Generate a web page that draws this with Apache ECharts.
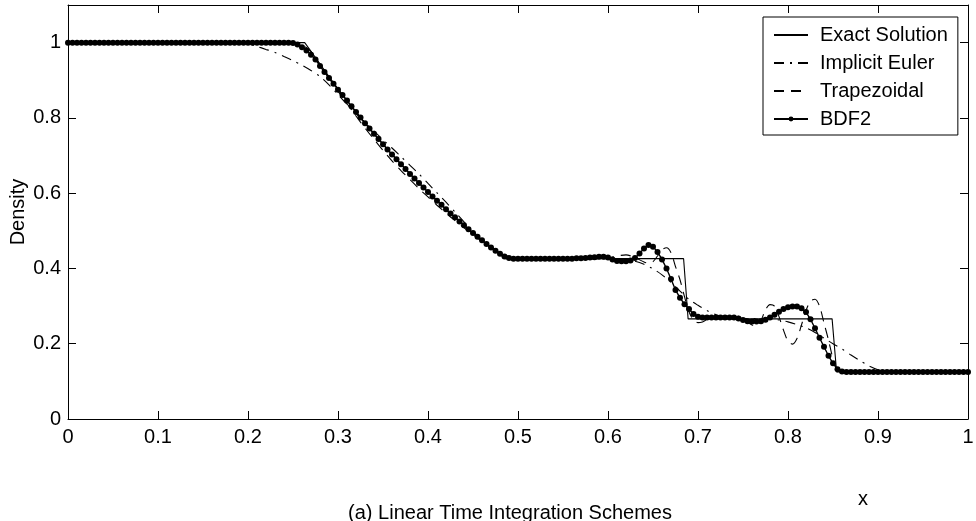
<!DOCTYPE html>
<html><head><meta charset="utf-8">
<script src="https://cdn.jsdelivr.net/npm/echarts@6/dist/echarts.min.js"></script>
<style>html,body{margin:0;padding:0;background:#fff}#c{width:976px;height:521px}</style>
</head><body><div id="c"></div>
<script>
// ---- data ----
const seriesNames = ['Exact Solution', 'Implicit Euler', 'Trapezoidal', 'BDF2'];
const xTickLabels = ['0','0.1','0.2','0.3','0.4','0.5','0.6','0.7','0.8','0.9','1'];
const yTickLabels = ['0','0.2','0.4','0.6','0.8','1'];

const exactX = [0, 0.263, 0.27, 0.28, 0.29, 0.30, 0.31, 0.32, 0.33, 0.34, 0.35, 0.36, 0.37, 0.38, 0.39, 0.40, 0.41, 0.42, 0.43, 0.44, 0.45, 0.46, 0.47, 0.48, 0.486, 0.684, 0.689, 0.849, 0.854, 1.0];
const exactY = [1, 1, 0.977, 0.943, 0.910, 0.8775, 0.846, 0.816, 0.786, 0.758, 0.730, 0.703, 0.677, 0.651, 0.627, 0.603, 0.580, 0.557, 0.536, 0.515, 0.494, 0.475, 0.455, 0.437, 0.426, 0.426, 0.266, 0.266, 0.125, 0.125];

const eulerX = [0, 0.19, 0.20, 0.21, 0.22, 0.23, 0.24, 0.25, 0.26, 0.27, 0.28, 0.29, 0.30, 0.31, 0.32, 0.33, 0.34, 0.35, 0.36, 0.37, 0.38, 0.39, 0.40, 0.41, 0.42, 0.43, 0.44, 0.45, 0.46, 0.47, 0.48, 0.49, 0.50, 0.51, 0.52,
  0.60, 0.61, 0.62, 0.63, 0.64, 0.65, 0.66, 0.67, 0.68, 0.69, 0.70, 0.71, 0.72, 0.73, 0.74, 0.75,
  0.78, 0.79, 0.80, 0.81, 0.82, 0.83, 0.84, 0.85, 0.86, 0.87, 0.88, 0.89, 0.90, 0.91, 0.92, 1.0];
const eulerY = [1, 1.0, 0.997, 0.99, 0.982, 0.974, 0.963, 0.952, 0.94, 0.926, 0.91, 0.888, 0.862, 0.836, 0.811, 0.787, 0.765, 0.742, 0.72, 0.697, 0.674, 0.651, 0.626, 0.601, 0.576, 0.55, 0.524, 0.499, 0.476, 0.456, 0.441, 0.432, 0.428, 0.427, 0.426,
  0.426, 0.425, 0.423, 0.419, 0.411, 0.399, 0.383, 0.363, 0.34, 0.318, 0.302, 0.288, 0.277, 0.271, 0.268, 0.267,
  0.266, 0.263, 0.258, 0.251, 0.242, 0.23, 0.215, 0.2, 0.186, 0.17, 0.155, 0.141, 0.131, 0.126, 0.125, 0.125];

const trapX = [0, 0.24, 0.25, 0.26, 0.27, 0.28, 0.29, 0.30, 0.31, 0.32, 0.33, 0.34, 0.35, 0.36, 0.37, 0.38, 0.39, 0.40, 0.41, 0.42, 0.43, 0.44, 0.45, 0.46, 0.47, 0.48, 0.49, 0.50,
  0.59, 0.60, 0.61, 0.62, 0.63, 0.64,
  0.645, 0.65, 0.655, 0.66, 0.665, 0.67, 0.675, 0.68, 0.685, 0.69, 0.695, 0.70, 0.705,
  0.71, 0.72, 0.73, 0.74,
  0.745, 0.75, 0.755, 0.76, 0.765, 0.77, 0.775, 0.78, 0.785, 0.79, 0.795, 0.80, 0.805, 0.81, 0.815, 0.82, 0.825, 0.83, 0.835, 0.84, 0.845, 0.85, 0.855, 0.86,
  1.0];
const trapY = [1, 1, 0.999, 0.994, 0.976, 0.942, 0.906, 0.871, 0.838, 0.805, 0.773, 0.743, 0.714, 0.686, 0.660, 0.636, 0.612, 0.590, 0.568, 0.547, 0.527, 0.508, 0.490, 0.472, 0.456, 0.441, 0.431, 0.426,
  0.426, 0.428, 0.433, 0.436, 0.429, 0.417,
  0.414, 0.418, 0.433, 0.450, 0.455, 0.442, 0.405, 0.370, 0.325, 0.285, 0.263, 0.256, 0.258,
  0.264, 0.270, 0.268, 0.268,
  0.273, 0.270, 0.258, 0.250, 0.248, 0.262, 0.290, 0.304, 0.300, 0.272, 0.236, 0.207, 0.199, 0.214, 0.250, 0.288, 0.313, 0.318, 0.300, 0.255, 0.210, 0.160, 0.130, 0.125,
  0.125];

// BDF2 values on the 201-point grid x = 0, 0.005, ..., 1
const bdf2Step = 0.005;
const bdf2Y = [
  1,1,1,1,1,1,1,1,1,1, 1,1,1,1,1,1,1,1,1,1, 1,1,1,1,1,1,1,1,1,1, 1,1,1,1,1,1,1,1,1,1, 1,1,1,1,1,1,1,1,1,   // 0 .. 0.24
  1.0, 0.999, 0.995, 0.988, 0.979, 0.968, 0.955, 0.938, 0.922, 0.906, 0.891,           // 0.245 .. 0.295
  0.875, 0.861, 0.846, 0.831, 0.816, 0.801, 0.786, 0.772, 0.758, 0.744,                 // 0.30 .. 0.345
  0.730, 0.716, 0.703, 0.690, 0.677, 0.664, 0.651, 0.639, 0.627, 0.615,                 // 0.35 .. 0.395
  0.603, 0.591, 0.580, 0.569, 0.557, 0.546, 0.536, 0.525, 0.515, 0.504,                 // 0.40 .. 0.445
  0.494, 0.484, 0.475, 0.465, 0.456, 0.447, 0.439, 0.432, 0.428, 0.426,                 // 0.45 .. 0.495
  0.426, 0.426, 0.426, 0.426, 0.426, 0.426, 0.426, 0.426, 0.426, 0.426, 0.426, 0.426, 0.426, // 0.50 .. 0.56
  0.427, 0.427, 0.428, 0.429, 0.430, 0.431, 0.431,                                      // 0.565 .. 0.595
  0.429, 0.424, 0.420, 0.419, 0.419, 0.421, 0.428, 0.440, 0.453, 0.462,                 // 0.60 .. 0.645
  0.458, 0.444, 0.424, 0.400, 0.372, 0.343, 0.322, 0.305, 0.292, 0.279,                 // 0.65 .. 0.695
  0.272, 0.270,                                                                         // 0.70 .. 0.705
  0.270, 0.270, 0.270, 0.270, 0.270, 0.270, 0.270,                                      // 0.71 .. 0.74
  0.267, 0.263, 0.260, 0.259, 0.259, 0.260, 0.264, 0.270, 0.277, 0.285, 0.292,          // 0.745 .. 0.795
  0.297, 0.299, 0.299, 0.294, 0.284, 0.265, 0.241, 0.216, 0.192, 0.168,                 // 0.80 .. 0.845
  0.148, 0.132, 0.126,                                                                  // 0.85 .. 0.86
  0.125, 0.125, 0.125, 0.125, 0.125, 0.125, 0.125, 0.125, 0.125, 0.125,                 // 0.865 ..
  0.125, 0.125, 0.125, 0.125, 0.125, 0.125, 0.125, 0.125, 0.125, 0.125,
  0.125, 0.125, 0.125, 0.125, 0.125, 0.125, 0.125, 0.125                                // .. 1.0
];

// ---- build chart ----
const FONT = "'Liberation Sans', Arial, sans-serif";
const zip = (xs, ys) => xs.map((x, i) => [x, ys[i]]);
const bdf2Data = bdf2Y.map((y, i) => [+(i * bdf2Step).toFixed(3), y]);
const fmtTick = (labels, step) => (v) => {
  const i = Math.round(v / step);
  return (Math.abs(v - i * step) < 1e-6 && labels[i] !== undefined) ? labels[i] : '';
};

const chart = echarts.init(document.getElementById('c'), null, {renderer: 'canvas'});
const axisCommon = {
  axisLine: {show: true, onZero: false, lineStyle: {color: '#000', width: 1}},
  axisTick: {show: true, inside: true, length: 8, lineStyle: {color: '#000', width: 1}},
  splitLine: {show: false}
};
chart.setOption({
  animation: false,
  backgroundColor: '#fff',
  textStyle: {fontFamily: FONT},
  grid: {left: 68, right: 8, top: 5, bottom: 102, containLabel: false, outerBoundsMode: 'none'},
  title: [
    {text: '(a) Linear Time Integration Schemes', left: 505, top: 498, textAlign: 'center',
     textStyle: {fontFamily: FONT, fontSize: 20, fontWeight: 'normal', color: '#000'}},
    {text: 'x', left: 858, top: 484, textAlign: 'center',
     textStyle: {fontFamily: FONT, fontSize: 20, fontWeight: 'normal', color: '#000'}}
  ],
  legend: {
    data: [
      {name: seriesNames[0], itemStyle: {opacity: 0}},
      {name: seriesNames[1], itemStyle: {opacity: 0}},
      {name: seriesNames[2], itemStyle: {opacity: 0}},
      {name: seriesNames[3]}
    ],
    orient: 'vertical',
    left: 763, top: 17,
    padding: [6, 10, 4, 10],
    itemGap: 4,
    itemWidth: 34, itemHeight: 6,
    borderColor: '#000', borderWidth: 1, backgroundColor: '#fff',
    textStyle: {fontFamily: FONT, fontSize: 20, color: '#000', lineHeight: 24, padding: [0, 0, 0, 7]}
  },
  xAxis: [
    Object.assign({type: 'value', position: 'bottom', min: 0, max: 1, interval: 0.1,
      axisLabel: {show: true, color: '#000', fontFamily: FONT, fontSize: 20, margin: 8,
        formatter: fmtTick(xTickLabels, 0.1)}}, axisCommon),
    Object.assign({type: 'value', position: 'top', min: 0, max: 1, interval: 0.1,
      axisLabel: {show: false}}, axisCommon)
  ],
  yAxis: [
    Object.assign({type: 'value', position: 'left', min: 0, max: 1.1, interval: 0.2,
      name: 'Density', nameLocation: 'middle', nameGap: 40, nameRotate: 90, nameMoveOverlap: false,
      nameTextStyle: {fontFamily: FONT, fontSize: 20, color: '#000'},
      axisLabel: {show: true, color: '#000', fontFamily: FONT, fontSize: 20, margin: 7,
        formatter: fmtTick(yTickLabels, 0.2)}}, axisCommon),
    Object.assign({type: 'value', position: 'right', min: 0, max: 1.1, interval: 0.2,
      axisLabel: {show: false}}, axisCommon)
  ],
  series: [
    {name: seriesNames[0], type: 'line', data: zip(exactX, exactY), symbol: 'none',
     lineStyle: {color: '#000', width: 1.1, type: 'solid'}, itemStyle: {color: '#000'}, z: 3},
    {name: seriesNames[1], type: 'line', data: zip(eulerX, eulerY), symbol: 'none', smooth: 0.3,
     lineStyle: {color: '#000', width: 1.1, type: [10, 6, 2, 6]}, itemStyle: {color: '#000'}, z: 2},
    {name: seriesNames[2], type: 'line', data: zip(trapX, trapY), symbol: 'none', smooth: 0.3,
     lineStyle: {color: '#000', width: 1.1, type: [10, 7]}, itemStyle: {color: '#000'}, z: 2},
    {name: seriesNames[3], type: 'line', data: bdf2Data, symbol: 'circle', symbolSize: 6, showSymbol: true,
     lineStyle: {color: '#000', width: 1.4, type: 'solid'}, itemStyle: {color: '#000', borderWidth: 0}, z: 4}
  ]
});
</script>
</body></html>
